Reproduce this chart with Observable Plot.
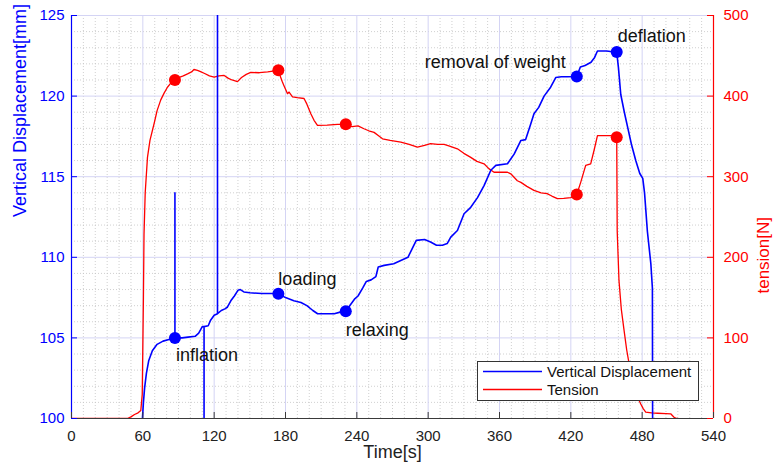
<!DOCTYPE html>
<html><head><meta charset="utf-8">
<script src="https://cdn.jsdelivr.net/npm/d3@7"></script>
<script src="https://cdn.jsdelivr.net/npm/@observablehq/plot@0.6"></script>
<style>
html,body{margin:0;padding:0;background:#fff;}
#wrap{position:relative;width:775px;height:471px;font-family:"Liberation Sans",Arial,sans-serif;}
#legend{position:absolute;left:477px;top:361px;width:222px;height:40px;border:1px solid #333;background:#fff;box-sizing:border-box;}
</style></head>
<body><div id="wrap"></div>
<script>
// ---- data ----
const dispTime = [59.5,60.5,61.5,63,65,68,72,77,82,87,87,87,93,98,104,107,110,111.5,111.5,111.5,115,117,120,122.8,122.8,122.8,126,129,131,134,137,140,142,145,150,160,168,174,180,187,193,198,203,207,214,221,226,230.7,234,238,241,245,248,252,256,258,263,271,277,283,287,290,297,302,307,312,316,319,324.6,330.2,335.8,341.5,347,352.7,356.9,366.7,372.3,378,382,386,389,393,397.5,403,407.3,412,417,425,428,432,437,440,442.4,450,455,458.6,460,462,465,468,471,474.6,478,480.5,482,484.4,487.3,488.6,488.8];
const dispValue = [99.8,101.0,101.9,102.8,103.6,104.2,104.6,104.8,104.9,105.0,114.0,105.0,105.0,105.05,105.1,105.3,105.7,105.7,99,105.7,105.75,106.1,106.4,106.5,126,106.5,106.7,106.8,106.9,107.3,107.6,107.95,108.0,107.85,107.8,107.75,107.75,107.74,107.5,107.3,107.2,107.0,106.7,106.5,106.5,106.5,106.6,106.66,107.0,107.4,107.6,108.1,108.5,108.6,108.8,109.4,109.5,109.6,109.8,110.0,110.6,111.05,111.1,110.95,110.75,110.75,110.85,111.25,111.66,112.7,113.1,113.7,114.45,115.4,115.7,115.8,116.4,117.25,117.3,118.2,118.9,119.3,120.0,120.55,121.15,121.2,121.2,121.22,121.8,121.9,122.1,122.4,122.8,122.8,122.75,122.73,121.8,120.1,119.0,118.0,117.0,116.0,115.2,114.9,114.0,111.6,109.6,108.1,99];
const tensionTime = [0,47,50,53,56,58.3,59.5,60.5,61,62,63.9,66,69.5,72,75,78,80.7,84,87,90,94,97.6,101,103,106,109,112,116,120,124,128.4,132,135,139.6,143,147,150.8,158,165,174,175,177.4,179,181.7,183,185.9,190,195.6,198,201.3,204,206.9,215,223.7,230.7,236,241,246,250,254.5,258,261.6,268,277,284,291,297,302,308,313.4,318,324.6,330,335.8,341,347,351,355.4,361,366.7,369.5,375,378,383,389,395,400,404,408.7,414,420,425,428.3,432.5,436.7,439.5,442.4,448,453.6,458.6,459,460.5,462.5,464.8,467,469,471,473.2,476,478.8,481,483,488,492.9,500,504,506.8,509,510];
const tensionValue = [0,0,2,5,7,10,30,150,229,280,324,345,366,382,395,404,411,417,420,423,425,427.5,430,433,432,430,428,425,423.5,425,425.6,422,420,418,423,427,429.5,429,430,432,427,417.5,412,403,405,399,398,397,390,378,370,363.6,364,365,365,362,363,359.5,357,355,351,347,345,343,340,336.7,339,341,340,340,338,334.6,329,324,319,316,310,305.5,305.5,305.5,303.6,295,293,288,283,280,279,276,272.7,273,274,278,293,314,316,332.5,351,351,351,349,233,171,135,109,85,68,52,39,27,18,12,8,7,6.5,6,5.8,1.6,0,0];
const eventTime = [87,174,230.7,425,458.6];
const eventDisp = [105.0,107.74,106.66,121.22,122.73];
const eventTension = [420,432,365,278,349];
const eventLabels = ["inflation","loading","relaxing","removal of weight","deflation"];
const timeTicks = [0,60,120,180,240,300,360,420,480,540];
const dispTicks = [100,105,110,115,120,125];
const tensionTicks = [0,100,200,300,400,500];
const seriesNames = ["Vertical Displacement","Tension"];
const xLabel = "Time[s]";
const yLabelLeft = "Vertical Displacement[mm]";
const yLabelRight = "tension[N]";

// ---- rendering ----
const BLUE = "#0000ff", RED = "#ff0000";
const toLeft = n => 100 + n / 20;      // tension (0..500) -> left scale (100..125)
const toTension = v => Math.round((v - 100) * 20);

const disp = dispTime.map((t, i) => ({t, v: dispValue[i]}));
const tension = tensionTime.map((t, i) => ({t, v: toLeft(tensionValue[i])}));
const events = eventTime.map((t, i) => ({t, d: eventDisp[i], n: toLeft(eventTension[i]), label: eventLabels[i]}));

const xMinor = d3.range(0, 541, 10).filter(d => d % 60 !== 0);
const yMinor = d3.range(100, 125.01, 1).filter(d => d % 5 !== 0);

const labelStyle = [
  {dx: 1, dy: 17, textAnchor: "start"},
  {dx: 0, dy: -14, textAnchor: "start"},
  {dx: 0, dy: 19, textAnchor: "start"},
  {dx: -11, dy: -14, textAnchor: "end"},
  {dx: 1, dy: -16, textAnchor: "start"}
];

const plot = Plot.plot({
  width: 775, height: 471,
  marginLeft: 71, marginRight: 62, marginTop: 15, marginBottom: 53,
  x: {domain: [0, 540]},
  y: {domain: [100, 125]},
  style: {fontFamily: '"Liberation Sans", Arial, sans-serif', fontSize: "15px", background: "white", overflow: "visible"},
  marks: [
    Plot.ruleX(xMinor, {x: d => d, stroke: "#c4c4c4", strokeDasharray: "1,2", strokeWidth: 0.8}),
    Plot.ruleY(yMinor, {y: d => d, stroke: "#c4c4c4", strokeDasharray: "1,2", strokeWidth: 0.8}),
    Plot.ruleX(timeTicks, {x: d => d, stroke: "#d4d4f4", strokeWidth: 1}),
    Plot.ruleY(dispTicks, {y: d => d, stroke: "#d4d4f4", strokeWidth: 1}),
    Plot.line(tension, {x: "t", y: "v", stroke: RED, strokeWidth: 1.3, clip: true}),
    Plot.line(disp, {x: "t", y: "v", stroke: BLUE, strokeWidth: 1.6, clip: true}),
    Plot.dot(events, {x: "t", y: "n", r: 6, fill: RED, stroke: null}),
    Plot.dot(events, {x: "t", y: "d", r: 6, fill: BLUE, stroke: null}),
    ...events.map((e, i) => Plot.text([e], {x: "t", y: "d", text: "label", fill: "#111", fontSize: 18, ...labelStyle[i]})),
    // axis lines
    Plot.ruleY([100], {y: d => d, stroke: "#3a3a3a", strokeWidth: 1.2}),
    Plot.ruleX([0], {x: d => d, stroke: BLUE, strokeWidth: 1.2}),
    Plot.ruleX([540], {x: d => d, stroke: RED, strokeWidth: 1.2}),
    // inward ticks
    Plot.ruleX(timeTicks, {x: d => d, y1: 100, y2: 100, insetBottom: 6, stroke: "#3a3a3a"}),
    Plot.ruleY(dispTicks, {y: d => d, x1: 0, x2: 0, insetRight: -6, stroke: BLUE}),
    Plot.ruleY(tensionTicks.map(toLeft), {y: d => d, x1: 540, x2: 540, insetLeft: -6, stroke: RED}),
    // tick labels
    Plot.axisX(timeTicks, {tickSize: 0, tickPadding: 12, label: null, color: "#222", fontSize: 15}),
    Plot.axisY(dispTicks, {anchor: "left", tickSize: 0, tickPadding: 7, label: null, color: BLUE, fontSize: 15}),
    Plot.axisY(tensionTicks.map(toLeft), {anchor: "right", tickSize: 0, tickPadding: 10, label: null, color: RED, fontSize: 15, tickFormat: toTension}),
    // axis titles
    Plot.text([xLabel], {text: d => d, frameAnchor: "bottom", dy: 39, fill: "#222", fontSize: 18}),
    Plot.text([yLabelLeft], {text: d => d, frameAnchor: "left", dx: -51, rotate: -90, fill: BLUE, fontSize: 18}),
    Plot.text([yLabelRight], {text: d => d, frameAnchor: "right", dx: 50, rotate: -90, fill: RED, fontSize: 17})
  ]
});

const wrap = document.getElementById("wrap");
wrap.appendChild(plot);

// legend (inside plot area, lower right)
const legend = document.createElement("div");
legend.id = "legend";
const ns = "http://www.w3.org/2000/svg";
const lsvg = document.createElementNS(ns, "svg");
lsvg.setAttribute("width", 220); lsvg.setAttribute("height", 38);
lsvg.style.display = "block";
[BLUE, RED].forEach((c, i) => {
  const y = 9.5 + i * 18;
  const ln = document.createElementNS(ns, "line");
  ln.setAttribute("x1", 5); ln.setAttribute("x2", 64);
  ln.setAttribute("y1", y); ln.setAttribute("y2", y);
  ln.setAttribute("style", "stroke:" + c + ";stroke-width:1.4");
  lsvg.appendChild(ln);
  const tx = document.createElementNS(ns, "text");
  tx.setAttribute("x", 69); tx.setAttribute("y", y);
  tx.setAttribute("dy", "0.36em");
  tx.setAttribute("font-size", 15);
  tx.setAttribute("fill", "#111");
  tx.setAttribute("font-family", '"Liberation Sans", Arial, sans-serif');
  tx.textContent = seriesNames[i];
  lsvg.appendChild(tx);
});
legend.appendChild(lsvg);
wrap.appendChild(legend);
</script>
</body></html>
